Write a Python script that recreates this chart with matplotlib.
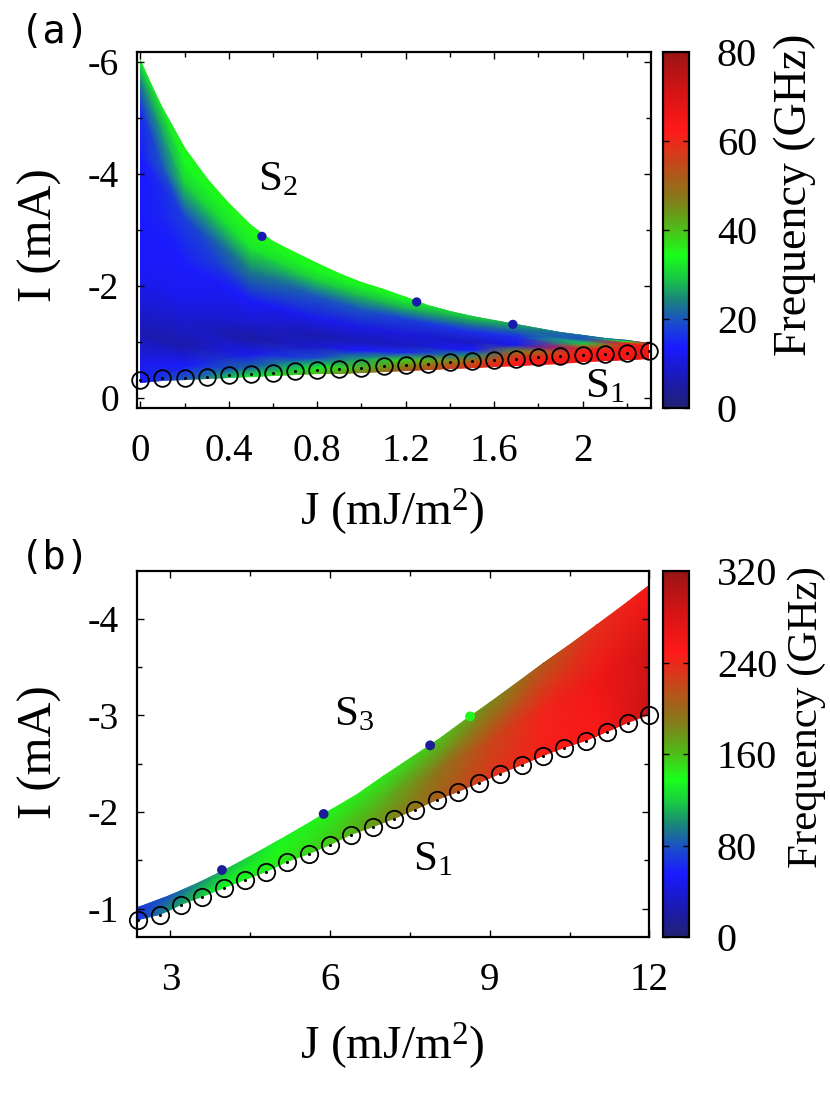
import numpy as np
import matplotlib
matplotlib.use("Agg")
import matplotlib.pyplot as plt
from matplotlib.colors import LinearSegmentedColormap
from matplotlib.patches import Polygon

plt.rcParams['font.family'] = 'Liberation Serif'
plt.rcParams['mathtext.fontset'] = 'custom'
plt.rcParams['mathtext.rm'] = 'Liberation Serif'
plt.rcParams['mathtext.it'] = 'Liberation Serif:italic'
plt.rcParams['axes.unicode_minus'] = False

# ---------------- panel (a) ----------------
# edges of the coloured region, J in mJ/m^2, I in mA
ja_edge = [0, 0.05, 0.1, 0.2, 0.3, 0.4, 0.5, 0.6, 0.7, 0.8, 0.9, 1.0, 1.1, 1.2,
           1.3, 1.4, 1.5, 1.6, 1.7, 1.8, 1.9, 2.0, 2.1, 2.2, 2.3]
ia_upper = [-6.05, -5.62, -5.2, -4.45, -3.92, -3.48, -3.08, -2.80, -2.60, -2.40,
            -2.22, -2.07, -1.95, -1.80, -1.66, -1.54, -1.46, -1.38, -1.32, -1.24,
            -1.17, -1.12, -1.07, -1.03, -0.98]
ia_lower = [-0.27, -0.285, -0.30, -0.31, -0.33, -0.35, -0.37, -0.39, -0.40, -0.42,
            -0.43, -0.44, -0.46, -0.48, -0.50, -0.52, -0.53, -0.55, -0.57, -0.59,
            -0.61, -0.63, -0.65, -0.67, -0.70]

# S1 boundary (open circles)
ja_s1 = [0, 0.1, 0.2, 0.3, 0.4, 0.5, 0.6, 0.7, 0.8, 0.9, 1.0, 1.1, 1.2, 1.3, 1.4,
         1.5, 1.6, 1.7, 1.8, 1.9, 2.0, 2.1, 2.2, 2.3]
ia_s1 = [-0.31, -0.35, -0.36, -0.38, -0.40, -0.43, -0.45, -0.47, -0.50, -0.52,
         -0.54, -0.57, -0.59, -0.61, -0.64, -0.65, -0.67, -0.69, -0.72, -0.75,
         -0.77, -0.78, -0.80, -0.84]

# frequency (GHz) sampled in columns of J, rows = fraction from lower to upper edge
ja_cols = [0, 0.2, 0.5, 0.8, 1.0, 1.2, 1.5, 1.7, 2.0, 2.2, 2.3]
sa_levels = [0, 0.06, 0.15, 0.25, 0.35, 0.5, 0.7, 0.85, 0.94, 1.0]
fa = [
    [14, 21, 34, 41, 47, 52, 58, 62, 64, 65, 68],
    [12, 14, 22, 33, 41, 48, 57, 62, 64, 65, 68],
    [6, 6, 12, 19, 27, 38, 50, 60, 64, 65, 68],
    [10, 9, 5, 9, 14, 16, 25, 56, 63, 65, 67],
    [13, 12, 9, 6, 7, 8, 14, 45, 62, 64, 67],
    [14, 14, 13, 12, 11, 10, 8, 12, 60, 64, 66],
    [14, 18, 24, 20, 20, 18, 16, 16, 30, 63, 65],
    [16, 30, 32, 30, 29, 28, 24, 22, 20, 60, 64],
    [25, 34, 35, 34, 33, 32, 28, 25, 20, 35, 63],
    [34, 35, 35, 35, 35, 34, 30, 27, 22, 22, 62],
]
# stray points on the S2 edge
ja_dots = [0.55, 1.25, 1.685]
ia_dots = [-2.88, -1.71, -1.31]
fa_dots = [6, 6, 6]

# ---------------- panel (b) ----------------
jb_edge = [2.4, 2.7, 3, 3.5, 4, 4.5, 5, 5.5, 6, 6.5, 7, 7.5, 8, 8.5, 9, 9.5, 10,
           10.5, 11, 11.5, 12]
ib_upper = [-1.02, -1.075, -1.14, -1.265, -1.40, -1.545, -1.70, -1.855, -2.02, -2.19,
            -2.37, -2.555, -2.75, -2.945, -3.14, -3.34, -3.54, -3.74, -3.94, -4.145,
            -4.35]

jb_s1 = [2.4, 2.8, 3.2, 3.6, 4.0, 4.4, 4.8, 5.2, 5.6, 6.0, 6.4, 6.8, 7.2, 7.6, 8.0,
         8.4, 8.8, 9.2, 9.6, 10.0, 10.4, 10.8, 11.2, 11.6, 12.0]
ib_s1 = [-0.88, -0.93, -1.04, -1.12, -1.21, -1.30, -1.38, -1.48, -1.57, -1.66,
         -1.76, -1.85, -1.93, -2.02, -2.12, -2.21, -2.30, -2.39, -2.49, -2.58,
         -2.66, -2.74, -2.83, -2.92, -3.00]

jb_cols = [2.4, 3, 4, 5, 6, 7, 8, 9, 10, 11, 12]
sb_levels = [0, 0.5, 1.0]
fb = [
    [68, 100, 135, 145, 158, 180, 205, 230, 245, 252, 290],
    [68, 92, 125, 140, 150, 165, 190, 220, 242, 262, 285],
    [68, 82, 112, 133, 142, 146, 158, 182, 210, 235, 255],
]
jb_dots = [3.97, 5.88, 7.88, 8.63]
ib_dots = [-1.40, -1.98, -2.69, -2.99]
fb_dots = [15, 15, 15, 140]

# gnuplot-like palette
cmap = LinearSegmentedColormap.from_list("freq", [
    (0.0, (0.13, 0.13, 0.45)),
    (0.08, (0.10, 0.10, 0.70)),
    (0.17, (0.10, 0.10, 1.00)),
    (0.24, (0.10, 0.30, 0.80)),
    (0.30, (0.10, 0.50, 0.50)),
    (0.37, (0.10, 0.80, 0.25)),
    (0.43, (0.10, 1.00, 0.10)),
    (0.50, (0.30, 0.75, 0.10)),
    (0.58, (0.50, 0.50, 0.10)),
    (0.68, (0.75, 0.30, 0.10)),
    (0.78, (1.00, 0.10, 0.10)),
    (0.88, (0.85, 0.08, 0.08)),
    (1.0, (0.60, 0.08, 0.08)),
])


def draw_band(ax, j_up, i_up, j_lo, i_lo, cols, levels, freq, vmax):
    cols = np.array(cols, dtype=float)
    lo = np.interp(cols, j_lo, i_lo)
    up = np.interp(cols, j_up, i_up)
    s = np.r_[-0.8, levels, 1.8]
    f = np.array(freq, dtype=float)
    f = np.vstack([f[0], f, f[-1]])
    X = np.tile(cols, (len(s), 1))
    Y = lo[None, :] + s[:, None] * (up - lo)[None, :]
    mesh = ax.pcolormesh(X, Y, f, shading='gouraud', cmap=cmap, vmin=0, vmax=vmax)
    verts = list(zip(j_up, i_up)) + list(zip(j_lo[::-1], i_lo[::-1]))
    poly = Polygon(verts, closed=True, fill=False, lw=0, transform=ax.transData)
    ax.add_patch(poly)
    mesh.set_clip_path(poly)
    return mesh


def style_axes(ax):
    for sp in ax.spines.values():
        sp.set_linewidth(1.6)
    ax.tick_params(which='both', direction='in', top=True, right=True, width=1)
    ax.tick_params(which='major', length=5)
    ax.tick_params(which='minor', length=3.5)
    ax.tick_params(axis='y', labelsize=27, pad=13)
    ax.tick_params(axis='x', labelsize=28, pad=18)


def style_cbar(cax, ticks):
    cax.set_yticks(ticks)
    cax.tick_params(direction='in', left=True, right=True, length=4, width=1,
                    labelsize=29, pad=20)
    for sp in cax.spines.values():
        sp.set_linewidth(1.6)


fig = plt.figure(figsize=(8.3, 11.09), dpi=100)

# ---- (a)
ax1 = fig.add_axes([0.1651, 0.6317, 0.6193, 0.3214])
m1 = draw_band(ax1, ja_edge, ia_upper, ja_edge, ia_lower, ja_cols, sa_levels, fa, 80)
ax1.scatter(ja_dots, ia_dots, c=fa_dots, cmap=cmap, vmin=0, vmax=80, s=45, lw=0, zorder=3)
ax1.plot(ja_s1, ia_s1, 'o', mfc='none', mec='k', ms=12, mew=1.3, clip_on=False, zorder=4)
ax1.plot(ja_s1, ia_s1, 'o', color='k', ms=1.2, zorder=4)
ax1.set_xlim(-0.015, 2.31)
ax1.set_ylim(0.19, -6.17)
ax1.set_xticks([0, 0.4, 0.8, 1.2, 1.6, 2.0])
ax1.set_xticklabels(["0", "0.4", "0.8", "1.2", "1.6", "2"])
ax1.set_xticks([0.2, 0.6, 1.0, 1.4, 1.8, 2.2], minor=True)
ax1.set_yticks([0, -2, -4, -6])
ax1.set_yticks([-1, -3, -5], minor=True)
style_axes(ax1)
ax1.text(0.62, -3.88, "S$_2$", fontsize=31, ha='center', va='center')
ax1.text(2.10, -0.19, "S$_1$", fontsize=31, ha='center', va='center')

cax1 = fig.add_axes([0.7988, 0.6317, 0.0313, 0.3214])
fig.colorbar(m1, cax=cax1)
style_cbar(cax1, [0, 20, 40, 60, 80])

# ---- (b)
ax2 = fig.add_axes([0.1651, 0.1554, 0.6174, 0.3293])
m2 = draw_band(ax2, jb_edge, ib_upper, jb_s1, ib_s1, jb_cols, sb_levels, fb, 320)
ax2.scatter(jb_dots, ib_dots, c=fb_dots, cmap=cmap, vmin=0, vmax=320, s=50, lw=0, zorder=3)
ax2.plot(jb_s1, ib_s1, 'o', mfc='none', mec='k', ms=12.5, mew=1.3, clip_on=False, zorder=4)
ax2.plot(jb_s1, ib_s1, 'o', color='k', ms=1.2, zorder=4)
ax2.set_xlim(2.375, 12.0)
ax2.set_ylim(-0.71, -4.49)
ax2.set_xticks([3, 6, 9, 12])
ax2.set_xticks([4.5, 7.5, 10.5], minor=True)
ax2.set_yticks([-1, -2, -3, -4])
ax2.set_yticks([-1.5, -2.5, -3.5], minor=True)
style_axes(ax2)
ax2.text(6.46, -3.0, "S$_3$", fontsize=31, ha='center', va='center')
ax2.text(7.93, -1.5, "S$_1$", fontsize=31, ha='center', va='center')

cax2 = fig.add_axes([0.7988, 0.1551, 0.0313, 0.330])
fig.colorbar(m2, cax=cax2)
style_cbar(cax2, [0, 80, 160, 240, 320])

# labels
fig.text(0.024, 0.971, "(a)", family='DejaVu Sans Mono', fontsize=28, ha='left', va='center')
fig.text(0.024, 0.497, "(b)", family='DejaVu Sans Mono', fontsize=28, ha='left', va='center')
fig.text(0.048, 0.788, "I (mA)", rotation=90, fontsize=35, ha='center', va='center')
fig.text(0.048, 0.322, "I (mA)", rotation=90, fontsize=35, ha='center', va='center')
fig.text(0.473, 0.539, "J (mJ/m$^2$)", fontsize=34, ha='center', va='center')
fig.text(0.473, 0.057, "J (mJ/m$^2$)", fontsize=34, ha='center', va='center')
fig.text(0.958, 0.824, "Frequency (GHz)", rotation=90, fontsize=33, ha='center', va='center')
fig.text(0.972, 0.353, "Frequency (GHz)", rotation=90, fontsize=31, ha='center', va='center')

fig.savefig("out.png", dpi=100)
